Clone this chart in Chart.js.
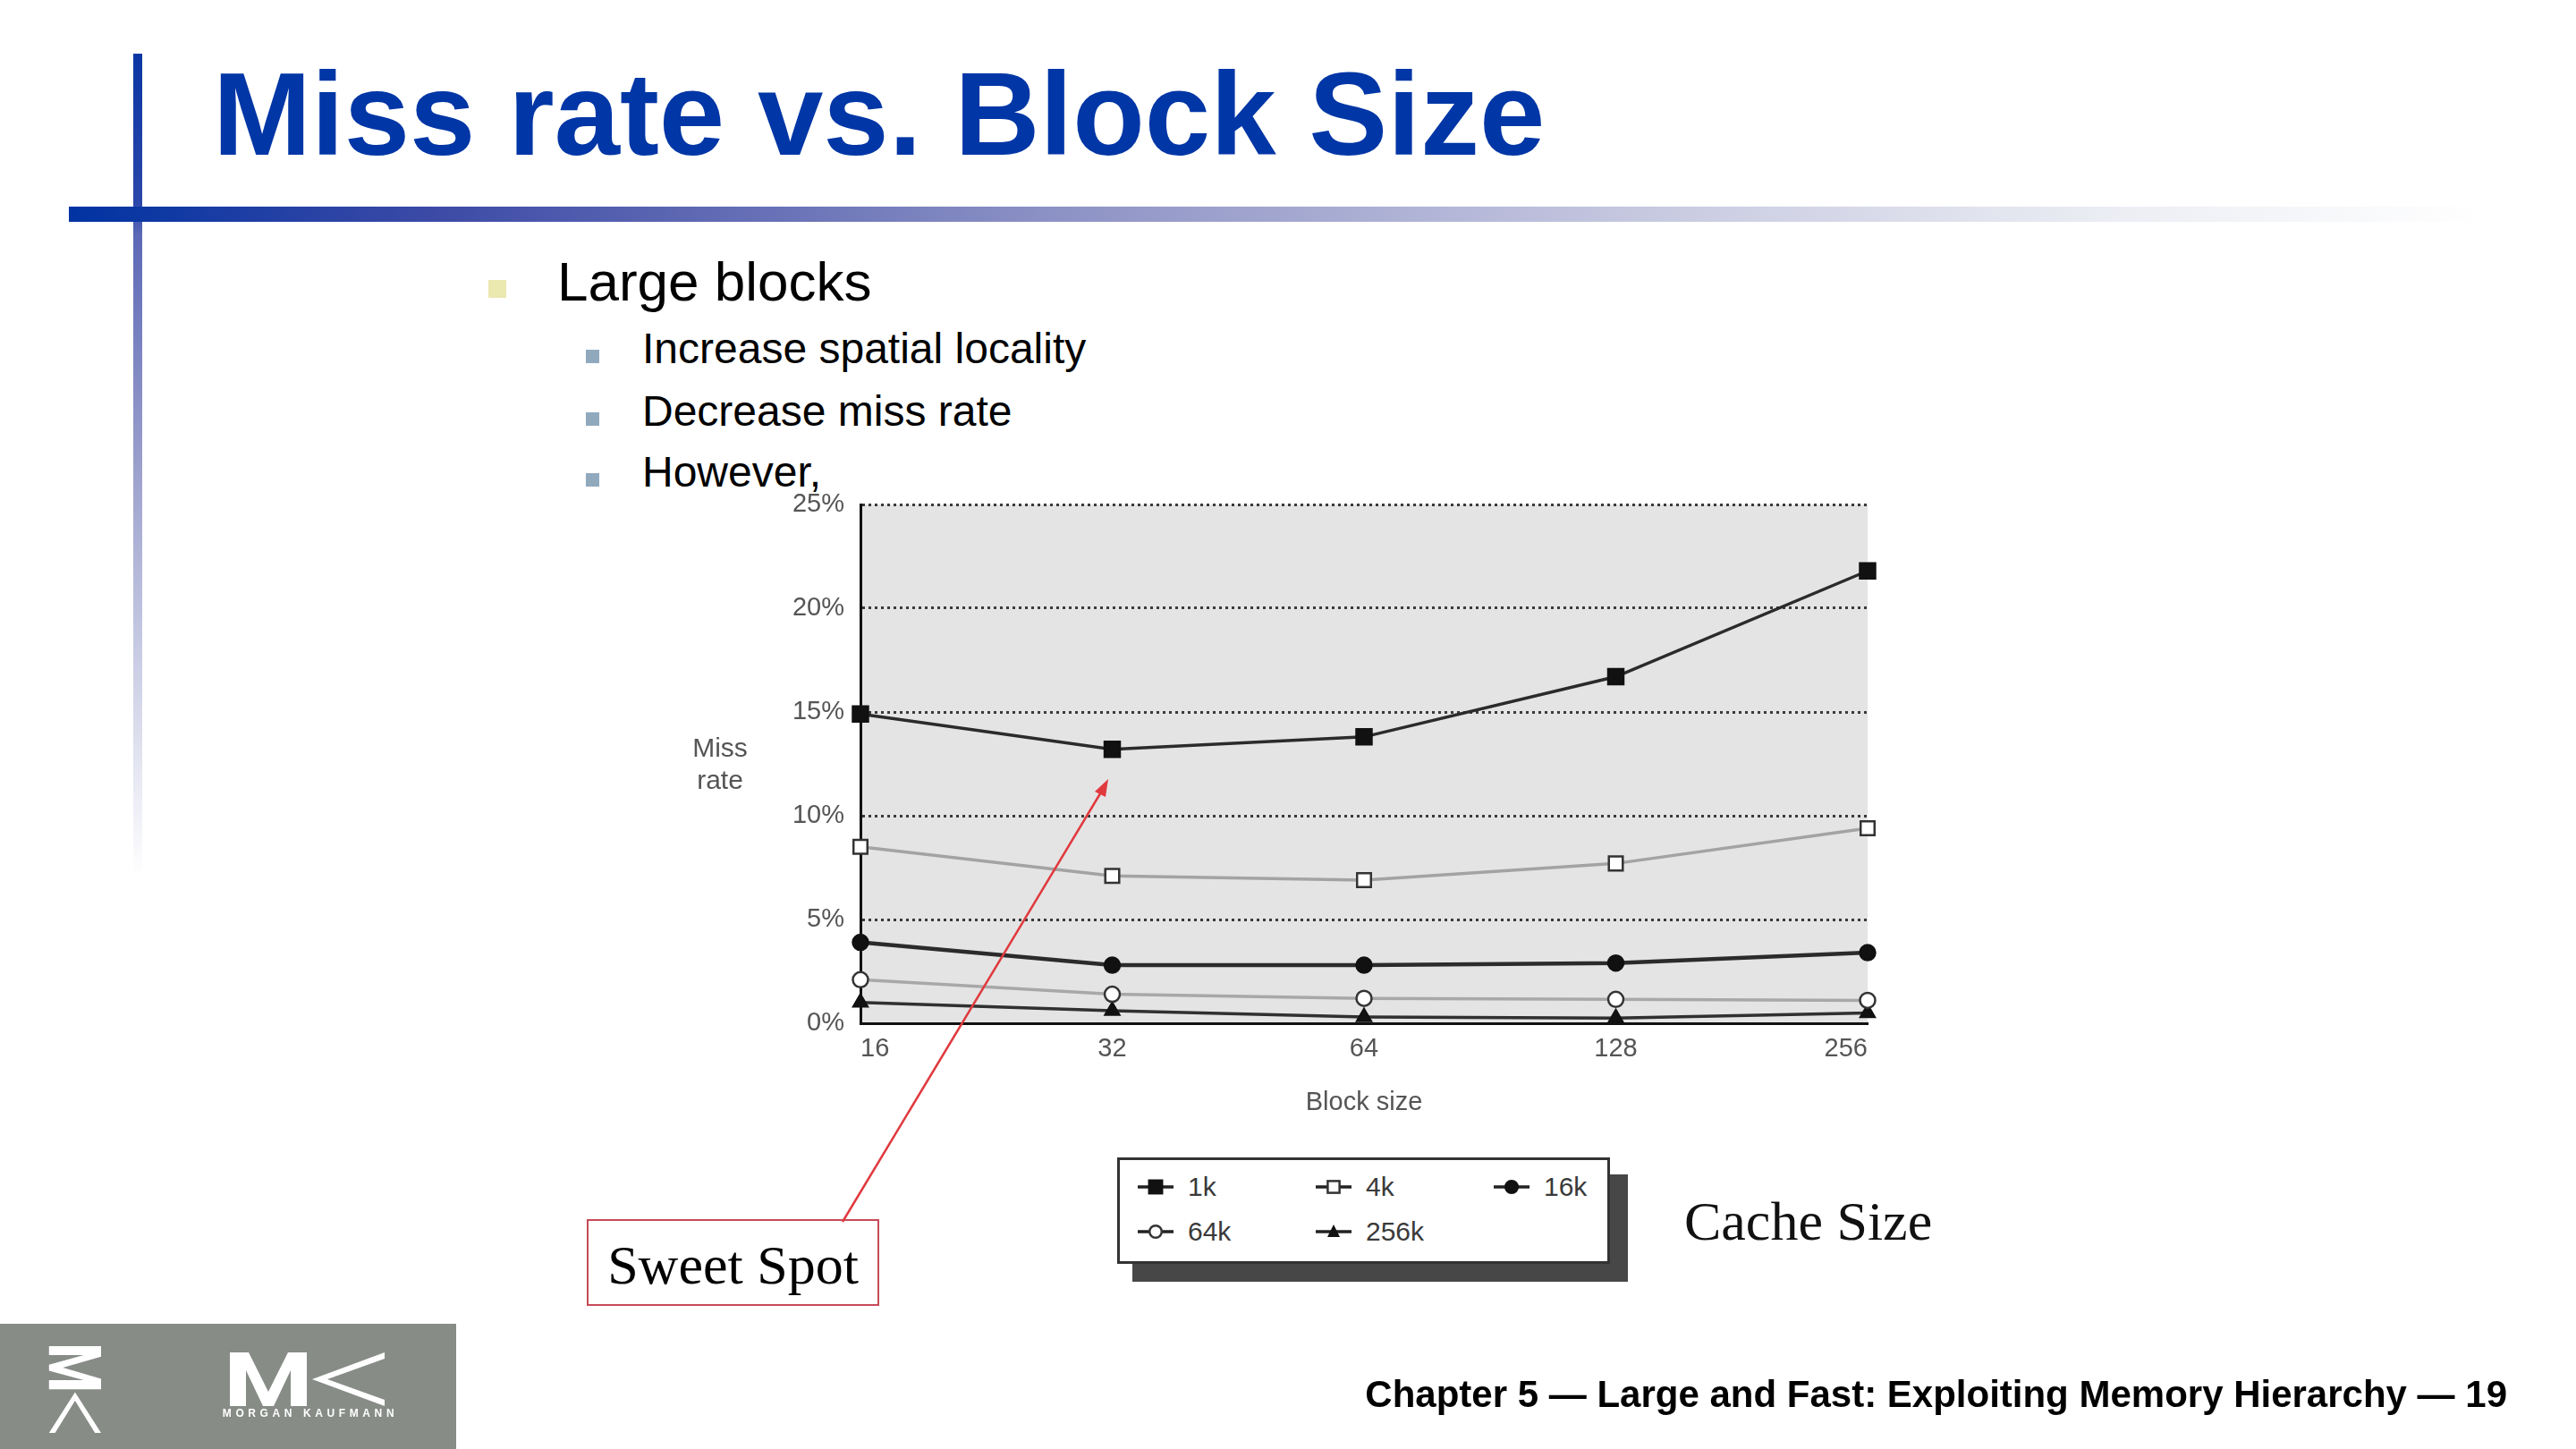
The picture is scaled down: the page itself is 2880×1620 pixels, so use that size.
<!DOCTYPE html>
<html>
<head>
<meta charset="utf-8">
<script src="https://cdn.jsdelivr.net/npm/chart.js@4.4.1/dist/chart.umd.min.js"></script>
<style>
  html, body { margin: 0; padding: 0; background: #fff; }
  body { width: 2880px; height: 1620px; position: relative; overflow: hidden; font-family: "Liberation Sans", Arial, sans-serif; }
  .abs { position: absolute; white-space: nowrap; line-height: 1; }
  #vbar { position: absolute; left: 149px; top: 60px; width: 10px; height: 920px;
    background: linear-gradient(to bottom, #0a36a4 0%, #2a46aa 18%, #5d68b6 22%, #9aa0cc 50%, rgba(255,255,255,0) 100%); }
  #hbar { position: absolute; left: 77px; top: 231px; width: 2700px; height: 17px;
    background: linear-gradient(to right, #0033a2 0%, #3c4aa6 15%, #8a90c4 40%, #c6c8e0 65%, #eceef4 85%, rgba(255,255,255,0) 100%); }
  #title { left: 238px; top: 62px; font-size: 132px; font-weight: bold; color: #0036a6; }
  .b1 { font-size: 62px; color: #000; }
  .b2 { font-size: 48px; color: #000; }
  .sq1 { position: absolute; width: 20px; height: 20px; background: #ebe8b0; }
  .sq2 { position: absolute; width: 15px; height: 15px; background: #91a9bd; }
  #chartBox { position: absolute; left: 740px; top: 520px; width: 1380px; height: 760px; }
  #ylab { left: 760px; top: 818px; width: 90px; text-align: center; font-size: 30px; line-height: 36px; color: #555; white-space: normal; }
  #legendShadow { position: absolute; left: 1266px; top: 1313px; width: 554px; height: 120px; background: #474747; }
  #legend { position: absolute; left: 1249px; top: 1294px; width: 545px; height: 113px; background: #fff;
    border: 3px solid #333; box-sizing: content-box; }
  .li { position: absolute; height: 30px; display: flex; align-items: center; font-size: 30px; color: #3a3a3a; }
  .li svg { margin-right: 6px; }
  #sweet { position: absolute; left: 656px; top: 1363px; width: 323px; height: 93px; border: 2px solid #c64a58;
    font-family: "Liberation Serif", "Times New Roman", serif; font-size: 62px; text-align: center; line-height: 1; background: #fff; }
  #sweet span { position: absolute; left: 0; right: 0; top: 18px; }
  #cache { left: 1883px; top: 1334px; font-family: "Liberation Serif", "Times New Roman", serif; font-size: 62px; color: #111; }
  #logo { position: absolute; left: 0; top: 1480px; width: 510px; height: 140px; background: #878c87; }
  #footer { right: 77px; top: 1538px; font-size: 42px; font-weight: bold; color: #000; }
  #overlay { position: absolute; left: 0; top: 0; pointer-events: none; }
</style>
</head>
<body>
<div id="vbar"></div>
<div id="hbar"></div>
<div id="title" class="abs">Miss rate vs. Block Size</div>

<div class="sq1" style="left:546px; top:313px;"></div>
<div class="abs b1" style="left:623px; top:284px;">Large blocks</div>
<div class="sq2" style="left:655px; top:391px;"></div>
<div class="abs b2" style="left:718px; top:366px;">Increase spatial locality</div>
<div class="sq2" style="left:655px; top:461px;"></div>
<div class="abs b2" style="left:718px; top:436px;">Decrease miss rate</div>
<div class="sq2" style="left:655px; top:529px;"></div>
<div class="abs b2" style="left:718px; top:504px;">However,</div>

<div id="chartBox"><canvas id="missChart"></canvas></div>
<div id="ylab" class="abs">Miss<br>rate</div>

<div id="legendShadow"></div>
<div id="legend"></div>
<div id="cache" class="abs">Cache Size</div>

<div id="sweet"><span>Sweet Spot</span></div>

<svg id="overlay" width="2880" height="1620">
  <line x1="942" y1="1366" x2="1232" y2="884" stroke="#e0393e" stroke-width="2.5"/>
  <polygon points="1239,871 1224,885 1236,891" fill="#e0393e"/>
</svg>

<div id="logo">
  <svg width="510" height="140">
    <defs>
      <g id="mk" fill="#fff">
        <polygon points="0,60 0,0 21,0 43,44 65,0 86,0 86,60 68,60 68,20 49,60 37,60 18,20 18,60"/>
        <polygon points="92,30 173,0 173,7 109,30 173,53 173,60"/>
      </g>
    </defs>
    <use href="#mk" transform="translate(257,32)"/>
    <use href="#mk" transform="translate(113,25) rotate(90) scale(0.56,0.97)"/>
    <text x="347" y="104" text-anchor="middle" fill="#fff" font-family="Liberation Sans, Arial" font-weight="bold" font-size="12" letter-spacing="4.6">MORGAN KAUFMANN</text>
  </svg>
</div>

<div id="footer" class="abs">Chapter 5 — Large and Fast: Exploiting Memory Hierarchy — 19</div>

<script>
// block sizes (bytes) on the x axis
const blockSizes = ["16", "32", "64", "128", "256"];
const yTickLabels = ["0%", "5%", "10%", "15%", "20%", "25%"];
const cacheSizes = ["1k", "4k", "16k", "64k", "256k"];

// miss rate in percent
const miss1k = [14.9, 13.2, 13.8, 16.7, 21.8];
const miss4k = [8.5, 7.1, 6.9, 7.7, 9.4];
const miss16k = [3.9, 2.8, 2.8, 2.9, 3.4];
const miss64k = [2.1, 1.4, 1.2, 1.15, 1.1];
const miss256k = [1.0, 0.6, 0.3, 0.25, 0.5];

const seriesData = [miss1k, miss4k, miss16k, miss64k, miss256k];
const seriesStyle = [
  { line: "#2b2b2b", width: 3.5, shape: "rect", r: 12, fill: "#111", edge: "#111" },
  { line: "#a3a3a3", width: 3.5, shape: "rect", r: 11, fill: "#fff", edge: "#333" },
  { line: "#2b2b2b", width: 4.5, shape: "circle", r: 8.5, fill: "#111", edge: "#111" },
  { line: "#a8a8a8", width: 3.5, shape: "circle", r: 8.5, fill: "#fff", edge: "#333" },
  { line: "#303030", width: 3.5, shape: "triangle", r: 9, fill: "#111", edge: "#111" },
];

const plotBg = {
  id: "plotBg",
  beforeDraw(chart) {
    const { ctx, chartArea } = chart;
    ctx.save();
    ctx.fillStyle = "#e4e4e4";
    ctx.fillRect(chartArea.left, chartArea.top, chartArea.right - chartArea.left, chartArea.bottom - chartArea.top);
    ctx.restore();
  },
};

const ctx = document.getElementById("missChart").getContext("2d");
const missChart = new Chart(ctx, {
  type: "line",
  data: {
    labels: blockSizes,
    datasets: cacheSizes.map((name, i) => ({
      label: name,
      data: seriesData[i],
      borderColor: seriesStyle[i].line,
      borderWidth: seriesStyle[i].width,
      pointStyle: seriesStyle[i].shape,
      pointRadius: seriesStyle[i].r,
      pointBackgroundColor: seriesStyle[i].fill,
      pointBorderColor: seriesStyle[i].edge,
      pointBorderWidth: 2.5,
      tension: 0,
      fill: false,
    })),
  },
  options: {
    responsive: true,
    maintainAspectRatio: false,
    animation: false,
    layout: { padding: { top: 44, right: 32, left: 0, bottom: 0 } },
    plugins: {
      legend: { display: false },
      tooltip: { enabled: false },
    },
    scales: {
      x: {
        offset: false,
        grid: { display: false, drawTicks: false },
        border: { display: true, color: "#111", width: 3 },
        ticks: {
          align: "inner",
          padding: 12,
          color: "#555",
          font: { family: "Liberation Sans", size: 29 },
        },
        title: {
          display: true,
          text: "Block size",
          color: "#555",
          font: { family: "Liberation Sans", size: 29 },
          padding: { top: 0, bottom: 30 },
        },
        afterFit: (scale) => { scale.height = 136; },
      },
      y: {
        min: 0,
        max: 25,
        ticks: {
          stepSize: 5,
          padding: 18,
          color: "#555",
          font: { family: "Liberation Sans", size: 29 },
          callback: (v) => yTickLabels[v / 5],
        },
        grid: { color: "#3a3a3a", lineWidth: 3, drawTicks: false },
        border: { display: true, color: "#111", width: 3, dash: [3, 4] },
        afterFit: (scale) => { scale.width = 222; },
      },
    },
  },
  plugins: [plotBg],
});

// legend built from the dataset styles
function markerSvg(s) {
  let m = "";
  if (s.shape === "rect") {
    const h = s.r * 0.6;
    m = `<rect x="${30 - h}" y="${15 - h}" width="${2 * h}" height="${2 * h}" fill="${s.fill}" stroke="${s.edge}" stroke-width="2.5"/>`;
  } else if (s.shape === "circle") {
    m = `<circle cx="30" cy="15" r="${s.r * 0.8}" fill="${s.fill}" stroke="${s.edge}" stroke-width="2.5"/>`;
  } else {
    m = `<polygon points="30,7 37,21 23,21" fill="${s.fill}"/>`;
  }
  return `<svg width="60" height="30"><line x1="10" y1="15" x2="50" y2="15" stroke="#222" stroke-width="3.5"/>${m}</svg>`;
}
const legendPos = [[1262, 1312], [1461, 1312], [1660, 1312], [1262, 1362], [1461, 1362]];
const legend = document.getElementById("legend");
cacheSizes.forEach((name, i) => {
  const d = document.createElement("div");
  d.className = "li";
  d.style.left = (legendPos[i][0] - 1252) + "px";
  d.style.top = (legendPos[i][1] - 1297) + "px";
  d.innerHTML = markerSvg(seriesStyle[i]) + "<span>" + name + "</span>";
  legend.appendChild(d);
});
</script>
</body>
</html>
